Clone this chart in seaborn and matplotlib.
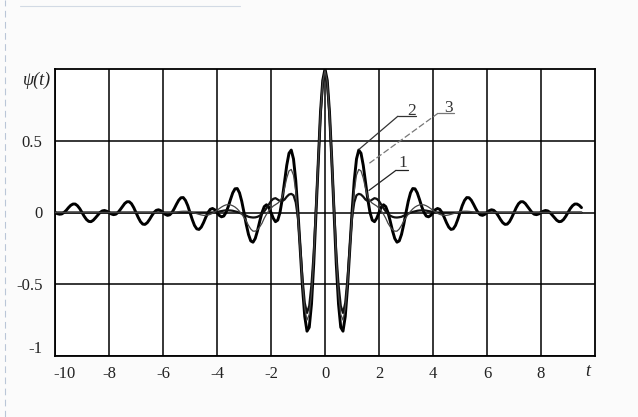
import numpy as np
import pandas as pd
import matplotlib
matplotlib.use("Agg")
import matplotlib.pyplot as plt
import matplotlib.transforms as mtransforms
from matplotlib.lines import Line2D
import seaborn as sns

sns.set_theme(style="white")
plt.rcParams['font.family'] = ['Liberation Serif', 'DejaVu Serif']
plt.rcParams['axes.unicode_minus'] = False

# sample grid (step 1/12), from -10 to 9.5
t = np.arange(-120, 115) / 12.0

# curve 2 (thick, largest side lobes) -- one row per unit of t
psi2_neg = [0.000, -0.008, -0.012, -0.010, 0.000, 0.015, 0.034, 0.050, 0.059, 0.059, 0.047, 0.027,
            0.000, -0.027, -0.049, -0.062, -0.064, -0.054, -0.037, -0.018, 0.000, 0.011, 0.014, 0.009,
            0.000, -0.010, -0.015, -0.012, 0.000, 0.020, 0.042, 0.063, 0.075, 0.075, 0.061, 0.034,
            0.000, -0.035, -0.064, -0.081, -0.083, -0.071, -0.049, -0.023, 0.000, 0.015, 0.019, 0.013,
            0.000, -0.013, -0.020, -0.016, 0.000, 0.027, 0.058, 0.086, 0.103, 0.104, 0.084, 0.048,
            0.000, -0.049, -0.090, -0.114, -0.118, -0.102, -0.071, -0.034, 0.000, 0.022, 0.028, 0.019,
            0.000, -0.020, -0.030, -0.025, 0.000, 0.041, 0.091, 0.137, 0.165, 0.167, 0.137, 0.078,
            0.000, -0.083, -0.153, -0.198, -0.207, -0.181, -0.127, -0.061, 0.000, 0.041, 0.054, 0.037,
            0.000, -0.040, -0.064, -0.053, 0.000, 0.094, 0.212, 0.329, 0.413, 0.435, 0.373, 0.223,
            0.000, -0.263, -0.522, -0.725, -0.827, -0.800, -0.637, -0.356, 0.000, 0.373, 0.699, 0.921]
psi2_pos = [1.000, 0.921, 0.699, 0.373, 0.000, -0.356, -0.637, -0.800, -0.827, -0.725, -0.522, -0.263,
            0.000, 0.223, 0.373, 0.435, 0.413, 0.329, 0.212, 0.094, 0.000, -0.053, -0.064, -0.040,
            0.000, 0.037, 0.054, 0.041, 0.000, -0.061, -0.127, -0.181, -0.207, -0.198, -0.153, -0.083,
            0.000, 0.078, 0.137, 0.167, 0.165, 0.137, 0.091, 0.041, 0.000, -0.025, -0.030, -0.020,
            0.000, 0.019, 0.028, 0.022, 0.000, -0.034, -0.071, -0.102, -0.118, -0.114, -0.090, -0.049,
            0.000, 0.048, 0.084, 0.104, 0.103, 0.086, 0.058, 0.027, 0.000, -0.016, -0.020, -0.013,
            0.000, 0.013, 0.019, 0.015, 0.000, -0.023, -0.049, -0.071, -0.083, -0.081, -0.064, -0.035,
            0.000, 0.034, 0.061, 0.075, 0.075, 0.063, 0.042, 0.020, 0.000, -0.012, -0.015, -0.010,
            0.000, 0.009, 0.014, 0.011, 0.000, -0.018, -0.037, -0.054, -0.064, -0.062, -0.049, -0.027,
            0.000, 0.027, 0.047, 0.059, 0.059, 0.050, 0.034]

# curve 3 (thin, medium side lobes)
psi3_neg = [0.0] * 52 + [
            0.000, 0.001, 0.003, 0.006, 0.008, 0.009, 0.009, 0.008, 0.005,
            0.001, -0.003, -0.008, -0.013, -0.017, -0.020, -0.020, -0.018, -0.013, -0.006, 0.004, 0.015,
            0.027, 0.038, 0.047, 0.053, 0.055, 0.053, 0.047, 0.038, 0.025, 0.008, -0.012, -0.035,
            -0.060, -0.090, -0.115, -0.130, -0.130, -0.120, -0.100, -0.075, -0.040, -0.012, 0.012, 0.030,
            0.045, 0.055, 0.065, 0.080, 0.110, 0.170, 0.240, 0.290, 0.300, 0.260, 0.150, -0.030,
            -0.270, -0.500, -0.670, -0.750, -0.710, -0.570, -0.320, 0.020, 0.370, 0.690, 0.910]
psi3_pos = [0.990, 0.910, 0.690, 0.370, 0.020, -0.320, -0.570, -0.710, -0.750, -0.670, -0.500, -0.270,
            -0.030, 0.150, 0.260, 0.300, 0.290, 0.240, 0.170, 0.110, 0.080, 0.065, 0.055, 0.045,
            0.030, 0.012, -0.012, -0.040, -0.075, -0.100, -0.120, -0.130, -0.130, -0.115, -0.090, -0.060,
            -0.035, -0.012, 0.008, 0.025, 0.038, 0.047, 0.053, 0.055, 0.053, 0.047, 0.038, 0.027,
            0.015, 0.004, -0.006, -0.013, -0.018, -0.020, -0.020, -0.017, -0.013, -0.008, -0.003, 0.001,
            0.005, 0.008, 0.009, 0.009, 0.008, 0.006, 0.003, 0.001, 0.000] + [0.0] * 46

# curve 1 (thick, smallest side lobes)
psi1_neg = [0.0] * 70 + [
            0.000, 0.002, 0.004,
            0.007, 0.010, 0.013, 0.015, 0.015, 0.014, 0.012, 0.008, 0.004, -0.002, -0.008, -0.015,
            -0.022, -0.030, -0.033, -0.035, -0.034, -0.030, -0.022, -0.010, 0.008, 0.030, 0.055, 0.080,
            0.095, 0.100, 0.090, 0.080, 0.080, 0.090, 0.110, 0.125, 0.130, 0.120, 0.070, -0.040,
            -0.240, -0.460, -0.630, -0.700, -0.650, -0.500, -0.280, 0.030, 0.360, 0.680, 0.900]
psi1_pos = [0.980, 0.900, 0.680, 0.360, 0.030, -0.280, -0.500, -0.650, -0.700, -0.630, -0.460, -0.240,
            -0.040, 0.070, 0.120, 0.130, 0.125, 0.110, 0.090, 0.080, 0.080, 0.090, 0.100, 0.095,
            0.080, 0.055, 0.030, 0.008, -0.010, -0.022, -0.030, -0.034, -0.035, -0.033, -0.030, -0.022,
            -0.015, -0.008, -0.002, 0.004, 0.008, 0.012, 0.014, 0.015, 0.015, 0.013, 0.010, 0.007,
            0.004, 0.002, 0.000] + [0.0] * 64

psi1 = np.array(psi1_neg + psi1_pos)
psi2 = np.array(psi2_neg + psi2_pos)
psi3 = np.array(psi3_neg + psi3_pos)

xticks = [-10, -8, -6, -4, -2, 0, 2, 4, 6, 8]
xticklabels = ["-10", "-8", "-6", "-4", "-2", "0", "2", "4", "6", "8"]
yticks = [-1, -0.5, 0, 0.5]
yticklabels = ["-1", "-0.5", "0", "0.5"]

W, H = 638, 417
fig = plt.figure(figsize=(W / 100, H / 100), dpi=100)
fig.patch.set_facecolor('#fbfbfb')
ax = fig.add_axes([55 / W, (H - 356) / H, 540 / W, 287 / H])
ax.set_facecolor('white')

sns.lineplot(x=t, y=psi2, ax=ax, color='black', lw=2.1, sort=False, zorder=3)
sns.lineplot(x=t, y=psi1, ax=ax, color='#111111', lw=1.6, sort=False, zorder=4)
sns.lineplot(x=t, y=psi3, ax=ax, color='#444444', lw=0.9, sort=False, zorder=5)

ax.set_xlim(-10, 10)
ax.set_ylim(-1, 1)
ax.set_xticks(xticks)
ax.set_xticklabels(xticklabels, fontsize=12)
ax.set_yticks(yticks)
ax.set_yticklabels(yticklabels, fontsize=12)
ax.tick_params(length=0, colors='#222222')
ax.tick_params(axis='x', pad=7)
ax.tick_params(axis='y', pad=9)
ax.grid(True, color='black', lw=1.1)
ax.set_axisbelow(True)
for s in ax.spines.values():
    s.set_color('black')
    s.set_linewidth(1.3)
    s.set_visible(True)
ax.set_xlabel("")
ax.set_ylabel("")

# shift the "-10" and "-1" labels as in the reference
xl = ax.get_xticklabels()
xl[0].set_transform(xl[0].get_transform() + mtransforms.ScaledTranslation(10 / 100, 0, fig.dpi_scale_trans))
yl = ax.get_yticklabels()
yl[0].set_transform(yl[0].get_transform() + mtransforms.ScaledTranslation(0, 9 / 100, fig.dpi_scale_trans))

# axis names
fig.text(37 / W, 1 - 80 / H, "ψ(t)", fontsize=13, style='italic', ha='center', va='center', color='#222222')
fig.text(588 / W, 1 - 372 / H, "t", fontsize=13, style='italic', ha='center', va='center', color='#222222')

# curve labels with underline and leader lines
labels = ["2", "3", "1"]
label_xy = [(3.19, 0.71), (4.56, 0.73), (2.89, 0.345)]
underline = [((2.70, 3.37), 0.671), ((4.19, 4.78), 0.692), ((2.63, 3.07), 0.294)]
leader_end = [(1.26, 0.44), (1.59, 0.336), (1.63, 0.154)]
styles = [dict(color='#333333', lw=0.9, ls='-'), dict(color='#777777', lw=0.9, ls=(0, (5, 2))),
          dict(color='#222222', lw=0.9, ls='-')]
for lab, (lx, ly), ((u0, u1), uy), (ex, ey), st in zip(labels, label_xy, underline, leader_end, styles):
    ax.text(lx, ly, lab, fontsize=12.5, ha='center', va='center', color='#333333', zorder=6)
    ax.plot([u0, u1], [uy, uy], color=st['color'], lw=st['lw'], zorder=6)
    ax.plot([u0, ex], [uy, ey], color=st['color'], lw=st['lw'], ls=st['ls'], zorder=6)

# faint scan edges
fig.add_artist(Line2D([5 / W, 5 / W], [0.0, 1.0], color='#9fb0c8', lw=0.8, ls=(0, (6, 4)), alpha=0.7))
fig.add_artist(Line2D([20 / W, 240 / W], [1 - 6 / H, 1 - 6 / H], color='#b8c4d6', lw=0.8, alpha=0.6))

fig.savefig("out.png", dpi=100, facecolor=fig.get_facecolor())
